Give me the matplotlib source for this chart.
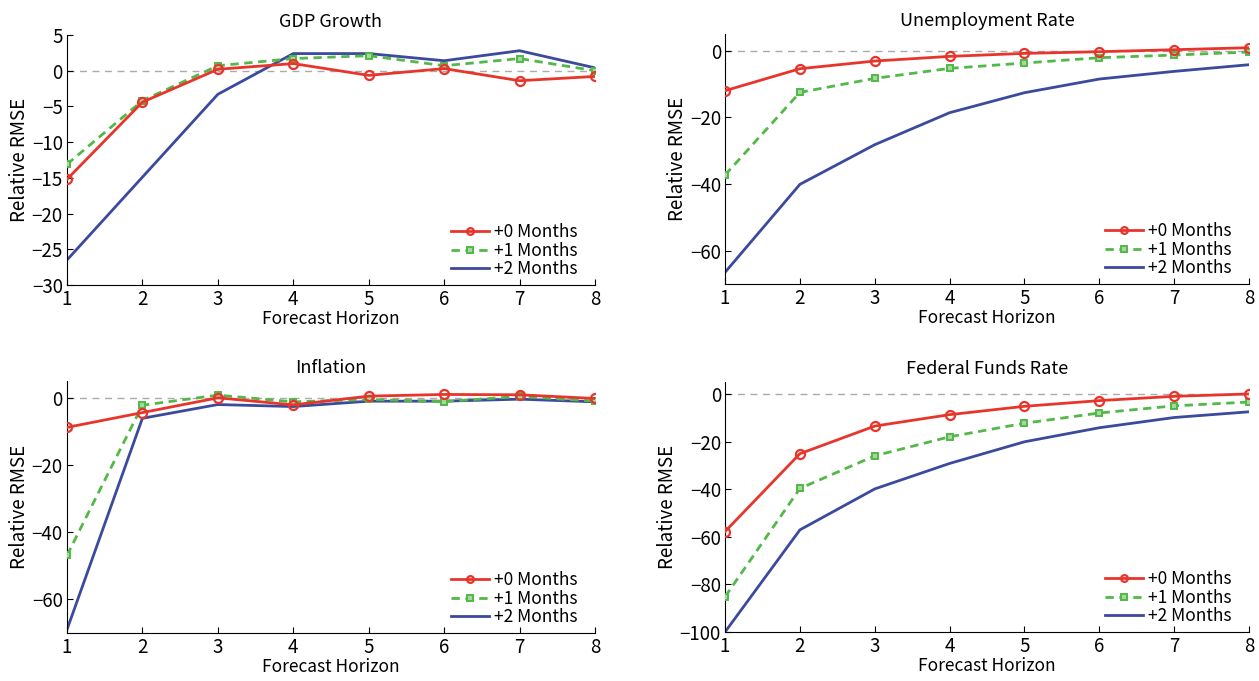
import matplotlib
matplotlib.use("Agg")
import matplotlib.pyplot as plt

plt.rcParams['font.family'] = ['Noto Sans CJK KR', 'DejaVu Sans']

horizon = [1, 2, 3, 4, 5, 6, 7, 8]
labels = ['+0 Months', '+1 Months', '+2 Months']

gdp_0 = [-15.2, -4.4, 0.2, 1.0, -0.65, 0.3, -1.4, -0.8]
gdp_1 = [-13.1, -4.2, 0.7, 1.7, 2.1, 0.7, 1.7, 0.0]
gdp_2 = [-26.5, -14.9, -3.3, 2.4, 2.4, 1.4, 2.8, 0.4]

unemp_0 = [-12.0, -5.4, -3.1, -1.7, -0.8, -0.3, 0.3, 0.9]
unemp_1 = [-37.3, -12.5, -8.3, -5.3, -3.7, -2.1, -1.3, -0.4]
unemp_2 = [-66.5, -40.1, -28.2, -18.6, -12.6, -8.5, -6.2, -4.2]

infl_0 = [-8.8, -4.4, 0.0, -2.1, 0.5, 1.0, 0.9, -0.2]
infl_1 = [-46.9, -2.2, 0.8, -1.2, -0.5, -1.1, 0.4, -1.0]
infl_2 = [-69.0, -6.1, -2.0, -2.6, -1.0, -1.0, -0.4, -1.2]

ffr_0 = [-57.8, -25.1, -13.5, -8.7, -5.2, -2.8, -1.0, 0.0]
ffr_1 = [-85.2, -39.7, -26.0, -18.0, -12.3, -8.0, -5.0, -3.4]
ffr_2 = [-100.0, -57.1, -39.9, -29.2, -20.1, -14.2, -9.9, -7.5]

panels = [
    ('GDP Growth', gdp_0, gdp_1, gdp_2, (-30, 5), list(range(-30, 6, 5))),
    ('Unemployment Rate', unemp_0, unemp_1, unemp_2, (-70, 5), [-60, -40, -20, 0]),
    ('Inflation', infl_0, infl_1, infl_2, (-70, 5), [-60, -40, -20, 0]),
    ('Federal Funds Rate', ffr_0, ffr_1, ffr_2, (-100, 5), [-100, -80, -60, -40, -20, 0]),
]

positions = [
    [0.0532, 0.5815, 0.4194, 0.3671],
    [0.5759, 0.5830, 0.4162, 0.3670],
    [0.0532, 0.0705, 0.4194, 0.3700],
    [0.5759, 0.0720, 0.4162, 0.3670],
]

red = '#e8352b'
green = '#52b847'
blue = '#3b4a9c'

fig = plt.figure(figsize=(12.59, 6.81), dpi=100)

for (title, s0, s1, s2, ylim, yticks), pos in zip(panels, positions):
    ax = fig.add_axes(pos)
    ax.axhline(0, color='#aaaaaa', linestyle=(0, (5, 4)), linewidth=1.0, zorder=1)
    ax.plot(horizon, s0, color=red, linewidth=2.0, marker='o', markersize=6.5,
            markerfacecolor='none', markeredgewidth=1.6, label=labels[0], zorder=4)
    ax.plot(horizon, s1, color=green, linewidth=2.0, linestyle=(0, (3, 2)), marker='s',
            markersize=5, markerfacecolor='#a6d99e', markeredgewidth=1.4, label=labels[1], zorder=3)
    ax.plot(horizon, s2, color=blue, linewidth=2.0, label=labels[2], zorder=2)
    ax.set_xlim(1, 8)
    ax.set_ylim(*ylim)
    ax.set_xticks(horizon)
    ax.set_yticks(yticks)
    ax.spines['top'].set_visible(False)
    ax.spines['right'].set_visible(False)
    ax.tick_params(direction='in', labelsize=13.5, length=4, pad=3)
    ax.set_title(title, fontsize=13, pad=6)
    ax.set_xlabel('Forecast Horizon', fontsize=12.5, labelpad=0)
    ax.set_ylabel('Relative RMSE', fontsize=13.5, labelpad=1)
    ax.legend(loc='lower right', frameon=False, fontsize=12.5, handlelength=2.2,
              numpoints=1, markerscale=0.75, handletextpad=0.3, labelspacing=0.02,
              borderaxespad=0.0, bbox_to_anchor=(0.98, 0.0))

fig.savefig('out.png', dpi=100)
